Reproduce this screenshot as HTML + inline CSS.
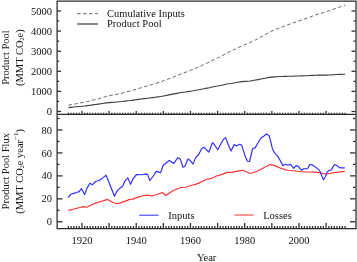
<!DOCTYPE html>
<html><head><meta charset="utf-8"><style>
html,body{margin:0;padding:0;background:#fff;}
svg{display:block;}
.tx{filter:grayscale(1);}
text{font-family:"Liberation Serif",serif;font-size:10.5px;fill:#111;}
</style></head><body>
<svg width="357" height="262" viewBox="0 0 357 262">
<g>
<rect width="357" height="262" fill="#fff"/>
<g fill="none" stroke-linejoin="round">
<polyline points="68.39,105.20 71.10,104.72 73.81,104.22 76.52,103.71 79.24,103.17 81.95,102.61 84.66,102.13 87.38,101.53 90.09,100.86 92.80,100.20 95.51,99.50 98.23,98.78 100.94,98.03 103.65,97.25 106.37,96.44 109.08,95.76 111.79,95.20 114.50,94.75 117.22,94.21 119.93,93.62 122.64,92.99 125.35,92.27 128.07,91.51 130.78,90.84 133.49,90.08 136.21,89.26 138.92,88.43 141.63,87.61 144.34,86.77 147.06,85.94 149.77,85.21 152.48,84.43 155.20,83.58 157.91,82.70 160.62,81.84 163.33,80.85 166.05,79.82 168.76,78.76 171.47,77.71 174.19,76.67 176.90,75.57 179.61,74.47 182.32,73.48 185.04,72.50 187.75,71.42 190.46,70.35 193.17,69.33 195.89,68.20 198.60,67.02 201.31,65.75 204.03,64.45 206.74,63.19 209.45,61.95 212.16,60.57 214.88,59.24 217.59,57.97 220.30,56.62 223.02,55.19 225.73,53.72 228.44,52.38 231.15,51.14 233.87,49.79 236.58,48.46 239.29,47.11 242.01,45.78 244.72,44.61 247.43,43.55 250.14,42.45 252.86,41.17 255.57,39.87 258.28,38.47 260.99,37.01 263.71,35.51 266.42,33.97 269.13,32.47 271.85,31.15 274.56,29.94 277.27,28.78 279.98,27.70 282.70,26.71 285.41,25.70 288.12,24.71 290.84,23.71 293.55,22.77 296.26,21.79 298.97,20.84 301.69,19.93 304.40,19.00 307.11,18.07 309.83,17.07 312.54,16.07 315.25,15.11 317.96,14.19 320.68,13.34 323.39,12.60 326.10,11.78 328.81,10.88 331.53,9.96 334.24,8.97 336.95,7.99 339.67,7.04 342.38,6.09 345.09,5.15" stroke="#666" stroke-width="1" stroke-dasharray="3.6,2.4"/>
<polyline points="68.39,107.60 71.10,107.33 73.81,107.05 76.52,106.77 79.24,106.49 81.95,106.18 84.66,105.96 87.38,105.62 90.09,105.24 92.80,104.89 95.51,104.51 98.23,104.13 100.94,103.74 103.65,103.33 106.37,102.91 109.08,102.61 111.79,102.39 114.50,102.28 117.22,102.05 119.93,101.79 122.64,101.52 125.35,101.15 128.07,100.77 130.78,100.50 133.49,100.14 136.21,99.74 138.92,99.35 141.63,98.97 144.34,98.60 147.06,98.24 149.77,97.97 152.48,97.64 155.20,97.25 157.91,96.86 160.62,96.50 163.33,96.01 166.05,95.44 168.76,94.87 171.47,94.35 174.19,93.88 176.90,93.35 179.61,92.83 182.32,92.45 185.04,92.08 187.75,91.61 190.46,91.17 193.17,90.80 195.89,90.33 198.60,89.83 201.31,89.25 204.03,88.67 206.74,88.16 209.45,87.67 212.16,87.06 214.88,86.51 217.59,86.05 220.30,85.52 223.02,84.93 225.73,84.31 228.44,83.83 231.15,83.46 233.87,82.99 236.58,82.55 239.29,82.08 242.01,81.66 244.72,81.37 247.43,81.18 250.14,80.94 252.86,80.52 255.57,80.08 258.28,79.59 260.99,79.04 263.71,78.49 266.42,77.93 269.13,77.41 271.85,77.09 274.56,76.87 277.27,76.68 279.98,76.54 282.70,76.47 285.41,76.38 288.12,76.29 290.84,76.19 293.55,76.15 296.26,76.05 298.97,75.98 301.69,75.91 304.40,75.81 307.11,75.70 309.83,75.52 312.54,75.35 315.25,75.21 317.96,75.11 320.68,75.06 323.39,75.13 326.10,75.09 328.81,74.99 331.53,74.88 334.24,74.70 336.95,74.53 339.67,74.41 342.38,74.30 345.09,74.19" stroke="#3a3a3a" stroke-width="1.1"/>
<polyline points="68.4,210.4 73.2,209.3 78.9,207.8 83.5,206.6 86.9,207.2 91.5,204.7 97.2,202.6 100.5,201.5 103.8,200.6 107.6,199.4 111.5,201.7 116.8,203.7 121.4,202.6 126,200.9 129.8,199.4 132.8,199.1 136.6,197.6 142.6,195.8 147.2,195.1 151.7,196 156.3,194.8 162.4,192.5 165.8,195.5 170.1,192.5 173.9,190.2 177,189 181.1,187.5 185.7,187.2 191.8,185.2 196.4,184.1 201,182.1 206.3,179.5 210.1,178.6 212,178.2 216.6,176 221.9,174.4 227.3,172.4 232.6,172.1 238,171.1 242.5,170.3 246.4,171.7 249.4,173.2 251.1,173.2 257.2,171.3 263.3,167.9 270.1,164.5 274.7,165.6 280.8,168.2 286.1,169.9 288,170.2 295.3,171 302.9,172 310.5,172 315,172.1 319.6,172.6 324.2,173.7 325.7,174.1 330.3,173.2 337.9,172.1 344.8,171.4" stroke="#ff3030" stroke-width="1.15"/>
<polyline points="68.1,197.5 70.9,194.3 73.5,193.4 76.5,192.5 79.1,191.6 81.5,188.7 84.6,194.5 87.2,187.9 89.9,183.3 92.2,184.8 95.6,181.5 99.4,180.3 103.1,177.6 106.1,175.3 114.5,196.3 116.8,191.3 119.8,188.2 122.6,186.3 125.2,180.6 127.9,177.9 130.5,184.4 133.3,178.3 136.6,174.5 141.1,174.7 145.6,174.1 147.5,174.4 149.9,180.5 153.3,176 156.3,171.4 160.6,172.6 163.2,165.3 166.2,163 169.3,160.4 173.9,163.4 177.6,157.7 180.3,159.1 182.9,167.2 184.9,166.3 188,159.1 190.3,160.6 193,164.1 195.6,157.6 198.7,154.5 201.7,148.4 204,147.3 208.9,152.2 212.4,142.7 214.3,144.5 217.8,149.8 220.9,143.7 223.5,139.2 225.7,137.6 228.5,145.3 231.1,151.1 234.1,144.5 236.4,146 239.8,144.2 241.8,145.3 244.8,155.2 247.4,161.3 249.6,161.5 252.6,148.7 255.3,147.6 257.9,143 261,138 264,136 266.6,133.9 269.1,135.7 270.6,141 272.4,148.7 274.7,153.2 277.8,156.3 280.8,161.6 283.1,165.6 285.4,164.3 287.6,165.2 290.4,164.4 291.9,166.1 293.7,168.4 296,165.6 298.3,166.4 301.4,170.2 303.7,168.7 307.5,168.7 309.8,164.5 312.1,164.8 316.6,167.9 319.6,170.6 321.9,176 323.4,179.8 325.4,176.7 327.2,172.1 329,170.3 331,170.2 332.6,167.6 334.5,164.5 337.1,165.7 339.4,167.6 341.7,167.9 344.8,167.9" stroke="#2a2aff" stroke-width="1.15"/>
</g>
<g stroke="#2a2a2a" stroke-width="1.25" fill="none">
<path d="M356.0,1.15 H57.1 V228.5 H356.0 Z"/>
<line x1="57.1" y1="114.4" x2="355.5" y2="114.4"/>
<line x1="68.39" y1="228.5" x2="68.39" y2="226.0"/><line x1="68.39" y1="114.4" x2="68.39" y2="112.7"/><line x1="71.10" y1="228.5" x2="71.10" y2="226.0"/><line x1="71.10" y1="114.4" x2="71.10" y2="112.7"/><line x1="73.81" y1="228.5" x2="73.81" y2="226.0"/><line x1="73.81" y1="114.4" x2="73.81" y2="112.7"/><line x1="76.52" y1="228.5" x2="76.52" y2="226.0"/><line x1="76.52" y1="114.4" x2="76.52" y2="112.7"/><line x1="79.24" y1="228.5" x2="79.24" y2="226.0"/><line x1="79.24" y1="114.4" x2="79.24" y2="112.7"/><line x1="81.95" y1="228.5" x2="81.95" y2="223.0"/><line x1="81.95" y1="114.4" x2="81.95" y2="110.9"/><line x1="84.66" y1="228.5" x2="84.66" y2="226.0"/><line x1="84.66" y1="114.4" x2="84.66" y2="112.7"/><line x1="87.38" y1="228.5" x2="87.38" y2="226.0"/><line x1="87.38" y1="114.4" x2="87.38" y2="112.7"/><line x1="90.09" y1="228.5" x2="90.09" y2="226.0"/><line x1="90.09" y1="114.4" x2="90.09" y2="112.7"/><line x1="92.80" y1="228.5" x2="92.80" y2="226.0"/><line x1="92.80" y1="114.4" x2="92.80" y2="112.7"/><line x1="95.51" y1="228.5" x2="95.51" y2="226.0"/><line x1="95.51" y1="114.4" x2="95.51" y2="112.7"/><line x1="98.23" y1="228.5" x2="98.23" y2="226.0"/><line x1="98.23" y1="114.4" x2="98.23" y2="112.7"/><line x1="100.94" y1="228.5" x2="100.94" y2="226.0"/><line x1="100.94" y1="114.4" x2="100.94" y2="112.7"/><line x1="103.65" y1="228.5" x2="103.65" y2="226.0"/><line x1="103.65" y1="114.4" x2="103.65" y2="112.7"/><line x1="106.37" y1="228.5" x2="106.37" y2="226.0"/><line x1="106.37" y1="114.4" x2="106.37" y2="112.7"/><line x1="109.08" y1="228.5" x2="109.08" y2="223.0"/><line x1="109.08" y1="114.4" x2="109.08" y2="110.9"/><line x1="111.79" y1="228.5" x2="111.79" y2="226.0"/><line x1="111.79" y1="114.4" x2="111.79" y2="112.7"/><line x1="114.50" y1="228.5" x2="114.50" y2="226.0"/><line x1="114.50" y1="114.4" x2="114.50" y2="112.7"/><line x1="117.22" y1="228.5" x2="117.22" y2="226.0"/><line x1="117.22" y1="114.4" x2="117.22" y2="112.7"/><line x1="119.93" y1="228.5" x2="119.93" y2="226.0"/><line x1="119.93" y1="114.4" x2="119.93" y2="112.7"/><line x1="122.64" y1="228.5" x2="122.64" y2="226.0"/><line x1="122.64" y1="114.4" x2="122.64" y2="112.7"/><line x1="125.35" y1="228.5" x2="125.35" y2="226.0"/><line x1="125.35" y1="114.4" x2="125.35" y2="112.7"/><line x1="128.07" y1="228.5" x2="128.07" y2="226.0"/><line x1="128.07" y1="114.4" x2="128.07" y2="112.7"/><line x1="130.78" y1="228.5" x2="130.78" y2="226.0"/><line x1="130.78" y1="114.4" x2="130.78" y2="112.7"/><line x1="133.49" y1="228.5" x2="133.49" y2="226.0"/><line x1="133.49" y1="114.4" x2="133.49" y2="112.7"/><line x1="136.21" y1="228.5" x2="136.21" y2="223.0"/><line x1="136.21" y1="114.4" x2="136.21" y2="110.9"/><line x1="138.92" y1="228.5" x2="138.92" y2="226.0"/><line x1="138.92" y1="114.4" x2="138.92" y2="112.7"/><line x1="141.63" y1="228.5" x2="141.63" y2="226.0"/><line x1="141.63" y1="114.4" x2="141.63" y2="112.7"/><line x1="144.34" y1="228.5" x2="144.34" y2="226.0"/><line x1="144.34" y1="114.4" x2="144.34" y2="112.7"/><line x1="147.06" y1="228.5" x2="147.06" y2="226.0"/><line x1="147.06" y1="114.4" x2="147.06" y2="112.7"/><line x1="149.77" y1="228.5" x2="149.77" y2="226.0"/><line x1="149.77" y1="114.4" x2="149.77" y2="112.7"/><line x1="152.48" y1="228.5" x2="152.48" y2="226.0"/><line x1="152.48" y1="114.4" x2="152.48" y2="112.7"/><line x1="155.20" y1="228.5" x2="155.20" y2="226.0"/><line x1="155.20" y1="114.4" x2="155.20" y2="112.7"/><line x1="157.91" y1="228.5" x2="157.91" y2="226.0"/><line x1="157.91" y1="114.4" x2="157.91" y2="112.7"/><line x1="160.62" y1="228.5" x2="160.62" y2="226.0"/><line x1="160.62" y1="114.4" x2="160.62" y2="112.7"/><line x1="163.33" y1="228.5" x2="163.33" y2="223.0"/><line x1="163.33" y1="114.4" x2="163.33" y2="110.9"/><line x1="166.05" y1="228.5" x2="166.05" y2="226.0"/><line x1="166.05" y1="114.4" x2="166.05" y2="112.7"/><line x1="168.76" y1="228.5" x2="168.76" y2="226.0"/><line x1="168.76" y1="114.4" x2="168.76" y2="112.7"/><line x1="171.47" y1="228.5" x2="171.47" y2="226.0"/><line x1="171.47" y1="114.4" x2="171.47" y2="112.7"/><line x1="174.19" y1="228.5" x2="174.19" y2="226.0"/><line x1="174.19" y1="114.4" x2="174.19" y2="112.7"/><line x1="176.90" y1="228.5" x2="176.90" y2="226.0"/><line x1="176.90" y1="114.4" x2="176.90" y2="112.7"/><line x1="179.61" y1="228.5" x2="179.61" y2="226.0"/><line x1="179.61" y1="114.4" x2="179.61" y2="112.7"/><line x1="182.32" y1="228.5" x2="182.32" y2="226.0"/><line x1="182.32" y1="114.4" x2="182.32" y2="112.7"/><line x1="185.04" y1="228.5" x2="185.04" y2="226.0"/><line x1="185.04" y1="114.4" x2="185.04" y2="112.7"/><line x1="187.75" y1="228.5" x2="187.75" y2="226.0"/><line x1="187.75" y1="114.4" x2="187.75" y2="112.7"/><line x1="190.46" y1="228.5" x2="190.46" y2="223.0"/><line x1="190.46" y1="114.4" x2="190.46" y2="110.9"/><line x1="193.17" y1="228.5" x2="193.17" y2="226.0"/><line x1="193.17" y1="114.4" x2="193.17" y2="112.7"/><line x1="195.89" y1="228.5" x2="195.89" y2="226.0"/><line x1="195.89" y1="114.4" x2="195.89" y2="112.7"/><line x1="198.60" y1="228.5" x2="198.60" y2="226.0"/><line x1="198.60" y1="114.4" x2="198.60" y2="112.7"/><line x1="201.31" y1="228.5" x2="201.31" y2="226.0"/><line x1="201.31" y1="114.4" x2="201.31" y2="112.7"/><line x1="204.03" y1="228.5" x2="204.03" y2="226.0"/><line x1="204.03" y1="114.4" x2="204.03" y2="112.7"/><line x1="206.74" y1="228.5" x2="206.74" y2="226.0"/><line x1="206.74" y1="114.4" x2="206.74" y2="112.7"/><line x1="209.45" y1="228.5" x2="209.45" y2="226.0"/><line x1="209.45" y1="114.4" x2="209.45" y2="112.7"/><line x1="212.16" y1="228.5" x2="212.16" y2="226.0"/><line x1="212.16" y1="114.4" x2="212.16" y2="112.7"/><line x1="214.88" y1="228.5" x2="214.88" y2="226.0"/><line x1="214.88" y1="114.4" x2="214.88" y2="112.7"/><line x1="217.59" y1="228.5" x2="217.59" y2="223.0"/><line x1="217.59" y1="114.4" x2="217.59" y2="110.9"/><line x1="220.30" y1="228.5" x2="220.30" y2="226.0"/><line x1="220.30" y1="114.4" x2="220.30" y2="112.7"/><line x1="223.02" y1="228.5" x2="223.02" y2="226.0"/><line x1="223.02" y1="114.4" x2="223.02" y2="112.7"/><line x1="225.73" y1="228.5" x2="225.73" y2="226.0"/><line x1="225.73" y1="114.4" x2="225.73" y2="112.7"/><line x1="228.44" y1="228.5" x2="228.44" y2="226.0"/><line x1="228.44" y1="114.4" x2="228.44" y2="112.7"/><line x1="231.15" y1="228.5" x2="231.15" y2="226.0"/><line x1="231.15" y1="114.4" x2="231.15" y2="112.7"/><line x1="233.87" y1="228.5" x2="233.87" y2="226.0"/><line x1="233.87" y1="114.4" x2="233.87" y2="112.7"/><line x1="236.58" y1="228.5" x2="236.58" y2="226.0"/><line x1="236.58" y1="114.4" x2="236.58" y2="112.7"/><line x1="239.29" y1="228.5" x2="239.29" y2="226.0"/><line x1="239.29" y1="114.4" x2="239.29" y2="112.7"/><line x1="242.01" y1="228.5" x2="242.01" y2="226.0"/><line x1="242.01" y1="114.4" x2="242.01" y2="112.7"/><line x1="244.72" y1="228.5" x2="244.72" y2="223.0"/><line x1="244.72" y1="114.4" x2="244.72" y2="110.9"/><line x1="247.43" y1="228.5" x2="247.43" y2="226.0"/><line x1="247.43" y1="114.4" x2="247.43" y2="112.7"/><line x1="250.14" y1="228.5" x2="250.14" y2="226.0"/><line x1="250.14" y1="114.4" x2="250.14" y2="112.7"/><line x1="252.86" y1="228.5" x2="252.86" y2="226.0"/><line x1="252.86" y1="114.4" x2="252.86" y2="112.7"/><line x1="255.57" y1="228.5" x2="255.57" y2="226.0"/><line x1="255.57" y1="114.4" x2="255.57" y2="112.7"/><line x1="258.28" y1="228.5" x2="258.28" y2="226.0"/><line x1="258.28" y1="114.4" x2="258.28" y2="112.7"/><line x1="260.99" y1="228.5" x2="260.99" y2="226.0"/><line x1="260.99" y1="114.4" x2="260.99" y2="112.7"/><line x1="263.71" y1="228.5" x2="263.71" y2="226.0"/><line x1="263.71" y1="114.4" x2="263.71" y2="112.7"/><line x1="266.42" y1="228.5" x2="266.42" y2="226.0"/><line x1="266.42" y1="114.4" x2="266.42" y2="112.7"/><line x1="269.13" y1="228.5" x2="269.13" y2="226.0"/><line x1="269.13" y1="114.4" x2="269.13" y2="112.7"/><line x1="271.85" y1="228.5" x2="271.85" y2="223.0"/><line x1="271.85" y1="114.4" x2="271.85" y2="110.9"/><line x1="274.56" y1="228.5" x2="274.56" y2="226.0"/><line x1="274.56" y1="114.4" x2="274.56" y2="112.7"/><line x1="277.27" y1="228.5" x2="277.27" y2="226.0"/><line x1="277.27" y1="114.4" x2="277.27" y2="112.7"/><line x1="279.98" y1="228.5" x2="279.98" y2="226.0"/><line x1="279.98" y1="114.4" x2="279.98" y2="112.7"/><line x1="282.70" y1="228.5" x2="282.70" y2="226.0"/><line x1="282.70" y1="114.4" x2="282.70" y2="112.7"/><line x1="285.41" y1="228.5" x2="285.41" y2="226.0"/><line x1="285.41" y1="114.4" x2="285.41" y2="112.7"/><line x1="288.12" y1="228.5" x2="288.12" y2="226.0"/><line x1="288.12" y1="114.4" x2="288.12" y2="112.7"/><line x1="290.84" y1="228.5" x2="290.84" y2="226.0"/><line x1="290.84" y1="114.4" x2="290.84" y2="112.7"/><line x1="293.55" y1="228.5" x2="293.55" y2="226.0"/><line x1="293.55" y1="114.4" x2="293.55" y2="112.7"/><line x1="296.26" y1="228.5" x2="296.26" y2="226.0"/><line x1="296.26" y1="114.4" x2="296.26" y2="112.7"/><line x1="298.97" y1="228.5" x2="298.97" y2="223.0"/><line x1="298.97" y1="114.4" x2="298.97" y2="110.9"/><line x1="301.69" y1="228.5" x2="301.69" y2="226.0"/><line x1="301.69" y1="114.4" x2="301.69" y2="112.7"/><line x1="304.40" y1="228.5" x2="304.40" y2="226.0"/><line x1="304.40" y1="114.4" x2="304.40" y2="112.7"/><line x1="307.11" y1="228.5" x2="307.11" y2="226.0"/><line x1="307.11" y1="114.4" x2="307.11" y2="112.7"/><line x1="309.83" y1="228.5" x2="309.83" y2="226.0"/><line x1="309.83" y1="114.4" x2="309.83" y2="112.7"/><line x1="312.54" y1="228.5" x2="312.54" y2="226.0"/><line x1="312.54" y1="114.4" x2="312.54" y2="112.7"/><line x1="315.25" y1="228.5" x2="315.25" y2="226.0"/><line x1="315.25" y1="114.4" x2="315.25" y2="112.7"/><line x1="317.96" y1="228.5" x2="317.96" y2="226.0"/><line x1="317.96" y1="114.4" x2="317.96" y2="112.7"/><line x1="320.68" y1="228.5" x2="320.68" y2="226.0"/><line x1="320.68" y1="114.4" x2="320.68" y2="112.7"/><line x1="323.39" y1="228.5" x2="323.39" y2="226.0"/><line x1="323.39" y1="114.4" x2="323.39" y2="112.7"/><line x1="326.10" y1="228.5" x2="326.10" y2="223.0"/><line x1="326.10" y1="114.4" x2="326.10" y2="110.9"/><line x1="328.81" y1="228.5" x2="328.81" y2="226.0"/><line x1="328.81" y1="114.4" x2="328.81" y2="112.7"/><line x1="331.53" y1="228.5" x2="331.53" y2="226.0"/><line x1="331.53" y1="114.4" x2="331.53" y2="112.7"/><line x1="334.24" y1="228.5" x2="334.24" y2="226.0"/><line x1="334.24" y1="114.4" x2="334.24" y2="112.7"/><line x1="336.95" y1="228.5" x2="336.95" y2="226.0"/><line x1="336.95" y1="114.4" x2="336.95" y2="112.7"/><line x1="339.67" y1="228.5" x2="339.67" y2="226.0"/><line x1="339.67" y1="114.4" x2="339.67" y2="112.7"/><line x1="342.38" y1="228.5" x2="342.38" y2="226.0"/><line x1="342.38" y1="114.4" x2="342.38" y2="112.7"/><line x1="345.09" y1="228.5" x2="345.09" y2="226.0"/><line x1="345.09" y1="114.4" x2="345.09" y2="112.7"/><line x1="57.1" y1="111.50" x2="61.1" y2="111.50"/><line x1="355.5" y1="111.50" x2="351.5" y2="111.50"/><line x1="57.1" y1="101.45" x2="59.1" y2="101.45"/><line x1="355.5" y1="101.45" x2="353.5" y2="101.45"/><line x1="57.1" y1="91.40" x2="61.1" y2="91.40"/><line x1="355.5" y1="91.40" x2="351.5" y2="91.40"/><line x1="57.1" y1="81.35" x2="59.1" y2="81.35"/><line x1="355.5" y1="81.35" x2="353.5" y2="81.35"/><line x1="57.1" y1="71.30" x2="61.1" y2="71.30"/><line x1="355.5" y1="71.30" x2="351.5" y2="71.30"/><line x1="57.1" y1="61.25" x2="59.1" y2="61.25"/><line x1="355.5" y1="61.25" x2="353.5" y2="61.25"/><line x1="57.1" y1="51.20" x2="61.1" y2="51.20"/><line x1="355.5" y1="51.20" x2="351.5" y2="51.20"/><line x1="57.1" y1="41.15" x2="59.1" y2="41.15"/><line x1="355.5" y1="41.15" x2="353.5" y2="41.15"/><line x1="57.1" y1="31.10" x2="61.1" y2="31.10"/><line x1="355.5" y1="31.10" x2="351.5" y2="31.10"/><line x1="57.1" y1="21.05" x2="59.1" y2="21.05"/><line x1="355.5" y1="21.05" x2="353.5" y2="21.05"/><line x1="57.1" y1="11.00" x2="61.1" y2="11.00"/><line x1="355.5" y1="11.00" x2="351.5" y2="11.00"/><line x1="57.1" y1="221.80" x2="62.6" y2="221.80"/><line x1="355.5" y1="221.80" x2="350.0" y2="221.80"/><line x1="57.1" y1="210.32" x2="59.6" y2="210.32"/><line x1="355.5" y1="210.32" x2="353.0" y2="210.32"/><line x1="57.1" y1="198.84" x2="62.6" y2="198.84"/><line x1="355.5" y1="198.84" x2="350.0" y2="198.84"/><line x1="57.1" y1="187.36" x2="59.6" y2="187.36"/><line x1="355.5" y1="187.36" x2="353.0" y2="187.36"/><line x1="57.1" y1="175.88" x2="62.6" y2="175.88"/><line x1="355.5" y1="175.88" x2="350.0" y2="175.88"/><line x1="57.1" y1="164.40" x2="59.6" y2="164.40"/><line x1="355.5" y1="164.40" x2="353.0" y2="164.40"/><line x1="57.1" y1="152.92" x2="62.6" y2="152.92"/><line x1="355.5" y1="152.92" x2="350.0" y2="152.92"/><line x1="57.1" y1="141.44" x2="59.6" y2="141.44"/><line x1="355.5" y1="141.44" x2="353.0" y2="141.44"/><line x1="57.1" y1="129.96" x2="62.6" y2="129.96"/><line x1="355.5" y1="129.96" x2="350.0" y2="129.96"/><line x1="57.1" y1="118.48" x2="59.6" y2="118.48"/><line x1="355.5" y1="118.48" x2="353.0" y2="118.48"/>
</g>
<g stroke-width="1" fill="none">
<line x1="77" y1="13.7" x2="98" y2="13.7" stroke="#666" stroke-dasharray="3.6,2.4"/>
<line x1="77" y1="24" x2="98" y2="24" stroke="#333" stroke-width="1.15"/>
<line x1="139.2" y1="215.2" x2="158.5" y2="215.2" stroke="#3535ff" stroke-width="1.05"/>
<line x1="234.4" y1="215.0" x2="253.4" y2="215.0" stroke="#ff3838" stroke-width="1.05"/>
</g>
<g class="tx">
<text x="52" y="115.10" text-anchor="end">0</text><text x="52" y="95.00" text-anchor="end">1000</text><text x="52" y="74.90" text-anchor="end">2000</text><text x="52" y="54.80" text-anchor="end">3000</text><text x="52" y="34.70" text-anchor="end">4000</text><text x="52" y="14.60" text-anchor="end">5000</text><text x="52" y="225.40" text-anchor="end">0</text><text x="52" y="202.44" text-anchor="end">20</text><text x="52" y="179.48" text-anchor="end">40</text><text x="52" y="156.52" text-anchor="end">60</text><text x="52" y="133.56" text-anchor="end">80</text><text x="81.95" y="244" text-anchor="middle">1920</text><text x="136.21" y="244" text-anchor="middle">1940</text><text x="190.46" y="244" text-anchor="middle">1960</text><text x="244.72" y="244" text-anchor="middle">1980</text><text x="298.97" y="244" text-anchor="middle">2000</text>
<text x="107" y="17">Cumulative Inputs</text>
<text x="107" y="27.1">Product Pool</text>
<text x="168.3" y="218.8">Inputs</text>
<text x="263.2" y="218.6">Losses</text>
<text x="206.7" y="261.0" text-anchor="middle" font-size="11.4">Year</text>
<text transform="translate(8.6,57.6) rotate(-90)" text-anchor="middle">Product Pool</text>
<text transform="translate(22.8,57.6) rotate(-90)" text-anchor="middle">(MMT CO<tspan font-size="6" dy="1.6">2</tspan><tspan dy="-1.6">e)</tspan></text>
<text transform="translate(8.6,171.2) rotate(-90)" text-anchor="middle">Product Pool Flux</text>
<text transform="translate(22.8,171.4) rotate(-90)" text-anchor="middle">(MMT CO<tspan font-size="6" dy="1.6">2</tspan><tspan dy="-1.6">e year</tspan><tspan font-size="7" dy="-5.2">−1</tspan><tspan dy="5.2">)</tspan></text>
</g>
</g>
</svg>
</body></html>
